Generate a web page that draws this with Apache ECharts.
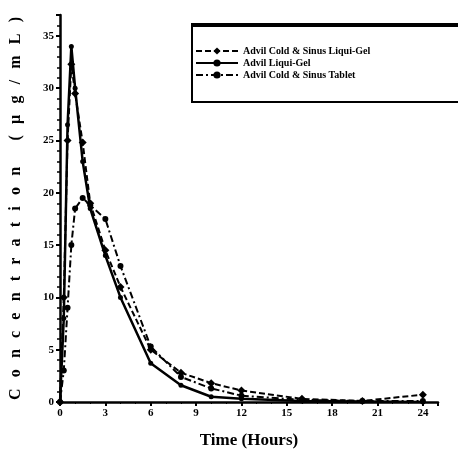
<!DOCTYPE html>
<html>
<head>
<meta charset="utf-8">
<script src="https://cdn.jsdelivr.net/npm/echarts@6/dist/echarts.min.js"></script>
<style>
  html, body { margin: 0; padding: 0; background: #fff; }
  #main { width: 458px; height: 457px; }
</style>
</head>
<body>
<div id="main"></div>
<script>
// sampling times (hours)
var times = [0, 0.25, 0.5, 0.75, 1, 1.5, 2, 3, 4, 6, 8, 10, 12, 16, 20, 24];

// concentrations
var coldSinusGel = [0, 10, 25, 32.3, 29.5, 24.8, 19, 14.5, 11, 5, 2.8, 1.8, 1.1, 0.3, 0.1, 0.7];
var liquiGel     = [0, 8, 26.5, 34, 30, 23, 18.5, 14, 10, 3.7, 1.6, 0.5, 0.3, 0.1, 0.05, 0];
var coldSinusTab = [0, 3, 9, 15, 18.5, 19.5, 18.8, 17.5, 13, 5.3, 2.4, 1.3, 0.6, 0.2, 0.1, 0.1];

var xTicks = [0, 3, 6, 9, 12, 15, 18, 21, 24];
var yTicks = [0, 5, 10, 15, 20, 25, 30, 35];

var names = ['Advil Cold & Sinus Liqui-Gel', 'Advil Liqui-Gel', 'Advil Cold & Sinus Tablet'];

function pairs(vals) {
  return times.map(function (t, i) { return [t, vals[i]]; });
}

var serif = '"Liberation Serif", "DejaVu Serif", serif';
// the y title is printed with very wide letter spacing
var yTitle = 'Concentration (µg/mL)'.split('').join('\u2002\u2009');

var myChart = echarts.init(document.getElementById('main'));
myChart.setOption({
  backgroundColor: '#fff',
  animation: false,
  grid: { left: 53, right: 20, top: 15, bottom: 55 },
  graphic: [
    { type: 'rect', shape: { x: 192, y: 24, width: 272, height: 78 },
      style: { fill: 'none', stroke: '#000', lineWidth: 2 } },
    { type: 'line', shape: { x1: 192, y1: 25, x2: 458, y2: 25 },
      style: { stroke: '#000', lineWidth: 4 } }
  ],
  legend: {
    orient: 'vertical',
    left: 190,
    top: 41,
    itemGap: 2,
    itemWidth: 42,
    itemHeight: 9,
    data: names,
    textStyle: { fontFamily: serif, fontWeight: 'bold', fontSize: 10, color: '#000' }
  },
  xAxis: {
    type: 'value',
    min: 0,
    max: 25,
    interval: 3,
    name: 'Time (Hours)',
    nameLocation: 'middle',
    nameGap: 30,
    nameTextStyle: { fontFamily: serif, fontWeight: 'bold', fontSize: 17, color: '#000', padding: [0, 0, 0, 0] },
    axisLine: { lineStyle: { color: '#000', width: 2.5 } },
    axisTick: { length: 4, lineStyle: { color: '#000', width: 2 } },
    minorTick: { show: true, splitNumber: 3, length: 2, lineStyle: { color: '#000' } },
    splitLine: { show: false },
    axisLabel: {
      fontFamily: serif, fontWeight: 'bold', fontSize: 11, color: '#000', margin: 6,
      formatter: function (v) { return xTicks.indexOf(v) >= 0 ? String(v) : ''; }
    }
  },
  yAxis: {
    type: 'value',
    min: 0,
    max: 37,
    interval: 5,
    name: yTitle,
    nameLocation: 'middle',
    nameGap: 36,
    nameTextStyle: { fontFamily: serif, fontWeight: 'bold', fontSize: 16, color: '#000' },
    axisLine: { lineStyle: { color: '#000', width: 2.5 } },
    axisTick: { length: 4, lineStyle: { color: '#000', width: 2 } },
    minorTick: { show: true, splitNumber: 5, length: 3, lineStyle: { color: '#000', width: 1.5 } },
    splitLine: { show: false },
    axisLabel: {
      fontFamily: serif, fontWeight: 'bold', fontSize: 11, color: '#000', margin: 6,
      formatter: function (v) { return yTicks.indexOf(v) >= 0 ? String(v) : ''; }
    }
  },
  series: [
    {
      name: names[0], type: 'line', data: pairs(coldSinusGel),
      symbol: 'diamond', symbolSize: 8,
      itemStyle: { color: '#000' },
      lineStyle: { color: '#000', width: 2, type: [6, 3] }
    },
    {
      name: names[1], type: 'line', data: pairs(liquiGel),
      symbol: 'circle', symbolSize: 5,
      itemStyle: { color: '#000' },
      lineStyle: { color: '#000', width: 2.5, type: 'solid' }
    },
    {
      name: names[2], type: 'line', data: pairs(coldSinusTab),
      symbol: 'circle', symbolSize: 6,
      itemStyle: { color: '#000' },
      lineStyle: { color: '#000', width: 2, type: [7, 3, 2, 3] }
    }
  ]
});
</script>
</body>
</html>
